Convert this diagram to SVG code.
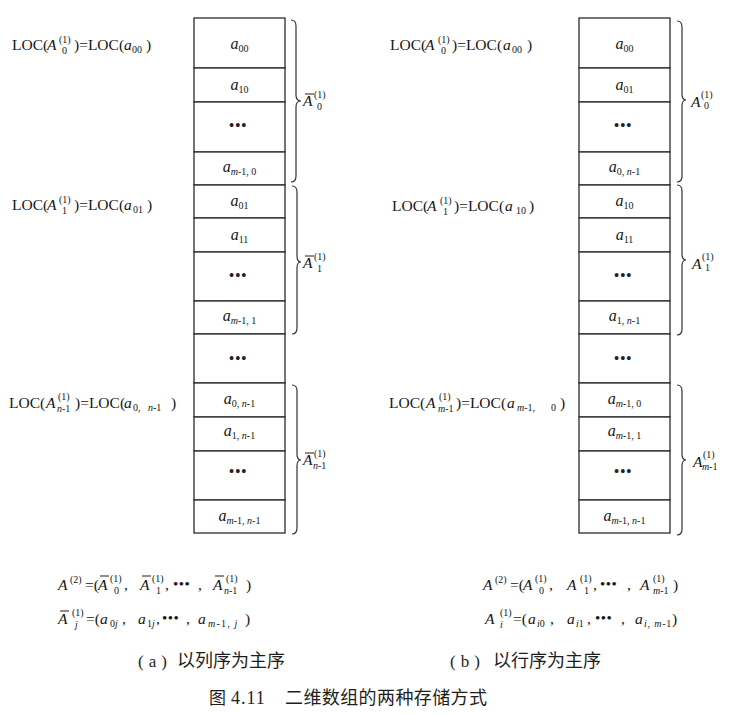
<svg xmlns="http://www.w3.org/2000/svg" width="733" height="714" viewBox="0 0 733 714">
<style>
.t{font-family:"Liberation Serif",serif;fill:#161616}
.lab{font-size:15.5px}
.it{font-style:italic}
.sup{font-size:10px;font-style:normal}
.cell{font-family:"Liberation Serif",serif;fill:#161616;font-size:16px;font-style:italic;text-anchor:middle}
.sub{font-size:10px;font-style:normal}
.dots{font-family:"Liberation Serif",serif;fill:#222;font-size:16px;letter-spacing:0.5px;text-anchor:middle}
.bl{font-size:15px;letter-spacing:0.5px}
.box{fill:#fff;stroke:#2a2a2a;stroke-width:1.3}
.brace{fill:none;stroke:#333;stroke-width:1.2}
.ol{stroke:#1e1e1e;stroke-width:1}
.cjk{font-family:"Liberation Serif","Noto Sans CJK SC",sans-serif;fill:#1e1e1e;font-size:18px}
</style>
<rect width="733" height="714" fill="#fff"/>

<!-- Column-major storage (a) -->
<g id="col-a">
<g id="a-c0"><rect class="box" x="194" y="18" width="91" height="50"/><text class="cell" x="239.5" y="49">a<tspan class="sub" dy="3">00</tspan></text></g>
<g id="a-c1"><rect class="box" x="194" y="68" width="91" height="34"/><text class="cell" x="239.5" y="90">a<tspan class="sub" dy="3">10</tspan></text></g>
<g id="a-c2"><rect class="box" x="194" y="102" width="91" height="50"/><text class="dots" x="238" y="131">•••</text></g>
<g id="a-c3"><rect class="box" x="194" y="152" width="91" height="33"/><text class="cell" x="239.5" y="172">a<tspan class="sub" dy="3"><tspan class="it">m</tspan>-1,  0</tspan></text></g>
<g id="a-c4"><rect class="box" x="194" y="185" width="91" height="33"/><text class="cell" x="239.5" y="206">a<tspan class="sub" dy="3">01</tspan></text></g>
<g id="a-c5"><rect class="box" x="194" y="218" width="91" height="34"/><text class="cell" x="239.5" y="240">a<tspan class="sub" dy="3">11</tspan></text></g>
<g id="a-c6"><rect class="box" x="194" y="252" width="91" height="49"/><text class="dots" x="238" y="281">•••</text></g>
<g id="a-c7"><rect class="box" x="194" y="301" width="91" height="33"/><text class="cell" x="239.5" y="321">a<tspan class="sub" dy="3"><tspan class="it">m</tspan>-1,  1</tspan></text></g>
<g id="a-c8"><rect class="box" x="194" y="334" width="91" height="49"/><text class="dots" x="238" y="364">•••</text></g>
<g id="a-c9"><rect class="box" x="194" y="383" width="91" height="34"/><text class="cell" x="239.5" y="404">a<tspan class="sub" dy="3">0, <tspan class="it">n</tspan>-1</tspan></text></g>
<g id="a-c10"><rect class="box" x="194" y="417" width="91" height="34"/><text class="cell" x="239.5" y="436">a<tspan class="sub" dy="3">1, <tspan class="it">n</tspan>-1</tspan></text></g>
<g id="a-c11"><rect class="box" x="194" y="451" width="91" height="49"/><text class="dots" x="238" y="477">•••</text></g>
<g id="a-c12"><rect class="box" x="194" y="500" width="91" height="33"/><text class="cell" x="239.5" y="521">a<tspan class="sub" dy="3"><tspan class="it">m</tspan>-1, <tspan class="it">n</tspan>-1</tspan></text></g>
</g>

<!-- Row-major storage (b) -->
<g id="col-b">
<g id="b-c0"><rect class="box" x="579" y="18" width="91" height="50"/><text class="cell" x="624.5" y="49">a<tspan class="sub" dy="3">00</tspan></text></g>
<g id="b-c1"><rect class="box" x="579" y="68" width="91" height="34"/><text class="cell" x="624.5" y="90">a<tspan class="sub" dy="3">01</tspan></text></g>
<g id="b-c2"><rect class="box" x="579" y="102" width="91" height="50"/><text class="dots" x="623" y="131">•••</text></g>
<g id="b-c3"><rect class="box" x="579" y="152" width="91" height="33"/><text class="cell" x="624.5" y="172">a<tspan class="sub" dy="3">0, <tspan class="it">n</tspan>-1</tspan></text></g>
<g id="b-c4"><rect class="box" x="579" y="185" width="91" height="33"/><text class="cell" x="624.5" y="206">a<tspan class="sub" dy="3">10</tspan></text></g>
<g id="b-c5"><rect class="box" x="579" y="218" width="91" height="34"/><text class="cell" x="624.5" y="240">a<tspan class="sub" dy="3">11</tspan></text></g>
<g id="b-c6"><rect class="box" x="579" y="252" width="91" height="49"/><text class="dots" x="623" y="281">•••</text></g>
<g id="b-c7"><rect class="box" x="579" y="301" width="91" height="33"/><text class="cell" x="624.5" y="321">a<tspan class="sub" dy="3">1, <tspan class="it">n</tspan>-1</tspan></text></g>
<g id="b-c8"><rect class="box" x="579" y="334" width="91" height="49"/><text class="dots" x="623" y="364">•••</text></g>
<g id="b-c9"><rect class="box" x="579" y="383" width="91" height="34"/><text class="cell" x="624.5" y="404">a<tspan class="sub" dy="3"><tspan class="it">m</tspan>-1,  0</tspan></text></g>
<g id="b-c10"><rect class="box" x="579" y="417" width="91" height="34"/><text class="cell" x="624.5" y="436">a<tspan class="sub" dy="3"><tspan class="it">m</tspan>-1,  1</tspan></text></g>
<g id="b-c11"><rect class="box" x="579" y="451" width="91" height="49"/><text class="dots" x="623" y="477">•••</text></g>
<g id="b-c12"><rect class="box" x="579" y="500" width="91" height="33"/><text class="cell" x="624.5" y="521">a<tspan class="sub" dy="3"><tspan class="it">m</tspan>-1, <tspan class="it">n</tspan>-1</tspan></text></g>
</g>

<!-- braces -->
<g id="connectors">
<path class="brace" d="M291,20 Q296,20 296,26 L296,95 Q296,101 301,101 Q296,101 296,107 L296,176 Q296,182 291,182"/>
<path class="brace" d="M292,186 Q297,186 297,192 L297,256 Q297,262 301,262 Q297,262 297,268 L297,328 Q297,334 292,334"/>
<path class="brace" d="M292,385 Q297,385 297,391 L297,454 Q297,460 301,460 Q297,460 297,466 L297,528 Q297,534 292,534"/>
<path class="brace" d="M677,21 Q682,21 682,27 L682,94 Q682,100 686,100 Q682,100 682,106 L682,176 Q682,182 677,182"/>
<path class="brace" d="M677,185 Q682,185 682,191 L682,254 Q682,260 686,260 Q682,260 682,266 L682,329 Q682,335 677,335"/>
<path class="brace" d="M677,385 Q682,385 682,391 L682,454 Q682,460 686,460 Q682,460 682,466 L682,529 Q682,535 677,535"/>
</g>

<!-- brace labels -->
<g id="brace-labels">
<line class="ol" x1="305" y1="94" x2="314" y2="94"/>
<text class="t lab it" x="303" y="106">A<tspan class="sup" x="314" y="98">(1)</tspan><tspan class="sup" x="317" y="110">0</tspan></text>
<line class="ol" x1="305" y1="256" x2="314" y2="256"/>
<text class="t lab it" x="303" y="268">A<tspan class="sup" x="314" y="260">(1)</tspan><tspan class="sup" x="317" y="272">1</tspan></text>
<line class="ol" x1="305" y1="453" x2="314" y2="453"/>
<text class="t lab it" x="303" y="465">A<tspan class="sup" x="314" y="457">(1)</tspan><tspan class="sup" x="313" y="469"><tspan class="it">n</tspan>-1</tspan></text>

<text class="t lab it" x="691" y="107">A<tspan class="sup" x="701" y="98">(1)</tspan><tspan class="sup" x="704" y="109">0</tspan></text>
<text class="t lab it" x="692" y="269">A<tspan class="sup" x="702" y="260">(1)</tspan><tspan class="sup" x="705" y="271">1</tspan></text>
<text class="t lab it" x="693" y="467">A<tspan class="sup" x="703" y="458">(1)</tspan><tspan class="sup" x="702" y="470"><tspan class="it">m</tspan>-1</tspan></text>
</g>

<!-- LOC labels -->
<g id="loc-labels">
<text class="t lab" x="12" y="50">LOC(<tspan class="it" x="47">A</tspan><tspan class="sup" x="59" y="43">(1)</tspan><tspan class="sup" x="62" y="54">0</tspan><tspan x="74" y="50">)=LOC(</tspan><tspan class="it" x="124">a</tspan><tspan class="sup" x="132" y="53">00</tspan><tspan x="146" y="50">)</tspan></text>
<text class="t lab" x="12" y="210">LOC(<tspan class="it" x="47">A</tspan><tspan class="sup" x="59" y="203">(1)</tspan><tspan class="sup" x="62" y="214">1</tspan><tspan x="74" y="210">)=LOC(</tspan><tspan class="it" x="124">a</tspan><tspan class="sup" x="133" y="213">01</tspan><tspan x="147" y="210">)</tspan></text>
<text class="t lab" x="9" y="408">LOC(<tspan class="it" x="46">A</tspan><tspan class="sup" x="58" y="400">(1)</tspan><tspan class="sup" x="57" y="412"><tspan class="it">n</tspan>-1</tspan><tspan x="75" y="408">)=LOC(</tspan><tspan class="it" x="124">a</tspan><tspan class="sup" x="133" y="411">0,</tspan><tspan class="sup" x="148" y="411"><tspan class="it">n</tspan>-1</tspan><tspan x="171" y="408">)</tspan></text>

<text class="t lab" x="390" y="50">LOC(<tspan class="it" x="425">A</tspan><tspan class="sup" x="438" y="43">(1)</tspan><tspan class="sup" x="441" y="54">0</tspan><tspan x="452" y="50">)=LOC(</tspan><tspan class="it" x="503">a</tspan><tspan class="sup" x="512" y="53">00</tspan><tspan x="527" y="50">)</tspan></text>
<text class="t lab" x="392" y="211">LOC(<tspan class="it" x="427">A</tspan><tspan class="sup" x="440" y="204">(1)</tspan><tspan class="sup" x="443" y="215">1</tspan><tspan x="454" y="211">)=LOC(</tspan><tspan class="it" x="505">a</tspan><tspan class="sup" x="516" y="214">10</tspan><tspan x="529" y="211">)</tspan></text>
<text class="t lab" x="389" y="408">LOC(<tspan class="it" x="426">A</tspan><tspan class="sup" x="439" y="400">(1)</tspan><tspan class="sup" x="438" y="412"><tspan class="it">m</tspan>-1</tspan><tspan x="456" y="408">)=LOC(</tspan><tspan class="it" x="507">a</tspan><tspan class="sup" x="517" y="411"><tspan class="it">m</tspan>-1,</tspan><tspan class="sup" x="551" y="411">0</tspan><tspan x="560" y="408">)</tspan></text>
</g>

<!-- formulas -->
<g id="formulas">
<text class="t lab" x="58" y="590"><tspan class="it">A</tspan><tspan class="sup" x="70" y="583">(2)</tspan><tspan x="85" y="590">=(</tspan><tspan class="it" x="98">A</tspan><tspan class="sup" x="110" y="582">(1)</tspan><tspan class="sup" x="114" y="594">0</tspan><tspan x="124" y="590">,</tspan><tspan class="it" x="140">A</tspan><tspan class="sup" x="152" y="582">(1)</tspan><tspan class="sup" x="156" y="594">1</tspan><tspan x="165" y="590">,</tspan><tspan class="bl" x="173" y="589">•••</tspan><tspan x="198" y="590">,</tspan><tspan class="it" x="213">A</tspan><tspan class="sup" x="226" y="582">(1)</tspan><tspan class="sup" x="224" y="594"><tspan class="it">n</tspan>-1</tspan><tspan x="246" y="590">)</tspan></text>
<line class="ol" x1="100" y1="576" x2="109" y2="576"/>
<line class="ol" x1="142" y1="576" x2="151" y2="576"/>
<line class="ol" x1="215" y1="576" x2="224" y2="576"/>

<line class="ol" x1="60" y1="611" x2="69" y2="611"/>
<text class="t lab" x="58" y="624"><tspan class="it">A</tspan><tspan class="sup" x="72" y="616">(1)</tspan><tspan class="sup" x="75" y="628" style="font-style:italic">j</tspan><tspan x="86" y="624">=(</tspan><tspan class="it" x="100">a</tspan><tspan class="sup" x="110" y="627">0<tspan class="it">j</tspan></tspan><tspan x="122" y="624">,</tspan><tspan class="it" x="138">a</tspan><tspan class="sup" x="147" y="627">1<tspan class="it">j</tspan></tspan><tspan x="156" y="624">,</tspan><tspan class="bl" x="162" y="623">•••</tspan><tspan x="186" y="624">,</tspan><tspan class="it" x="198">a</tspan><tspan class="sup" x="208" y="627" style="letter-spacing:1.2px"><tspan class="it">m</tspan>-1, <tspan class="it">j</tspan></tspan><tspan x="245" y="624">)</tspan></text>

<text class="t lab" x="483" y="590"><tspan class="it">A</tspan><tspan class="sup" x="495" y="583">(2)</tspan><tspan x="510" y="590">=(</tspan><tspan class="it" x="523">A</tspan><tspan class="sup" x="535" y="582">(1)</tspan><tspan class="sup" x="539" y="594">0</tspan><tspan x="549" y="590">,</tspan><tspan class="it" x="567">A</tspan><tspan class="sup" x="580" y="582">(1)</tspan><tspan class="sup" x="584" y="594">1</tspan><tspan x="593" y="590">,</tspan><tspan class="bl" x="600" y="589">•••</tspan><tspan x="627" y="590">,</tspan><tspan class="it" x="640">A</tspan><tspan class="sup" x="653" y="582">(1)</tspan><tspan class="sup" x="653" y="594"><tspan class="it">m</tspan>-1</tspan><tspan x="673" y="590">)</tspan></text>
<text class="t lab" x="485" y="624"><tspan class="it">A</tspan><tspan class="sup" x="500" y="616">(1)</tspan><tspan class="sup" x="500" y="628" style="font-style:italic">i</tspan><tspan x="513" y="624">=(</tspan><tspan class="it" x="528">a</tspan><tspan class="sup" x="537" y="627"><tspan class="it">i</tspan>0</tspan><tspan x="550" y="624">,</tspan><tspan class="it" x="567">a</tspan><tspan class="sup" x="576" y="627"><tspan class="it">i</tspan>1</tspan><tspan x="587" y="624">,</tspan><tspan class="bl" x="595" y="623">•••</tspan><tspan x="621" y="624">,</tspan><tspan class="it" x="635">a</tspan><tspan class="sup" x="644" y="627" style="letter-spacing:0.8px"><tspan class="it">i</tspan>, <tspan class="it">m</tspan>-1</tspan><tspan x="672" y="624">)</tspan></text>
</g>

<!-- captions -->
<g id="captions">
<text class="cjk" x="138" y="667"><tspan style="font-family:'Liberation Serif',serif;font-size:17px;letter-spacing:5px">(a)</tspan><tspan x="177">以列序为主序</tspan></text>
<text class="cjk" x="450" y="667"><tspan style="font-family:'Liberation Serif',serif;font-size:17px;letter-spacing:5px">(b)</tspan><tspan x="493">以行序为主序</tspan></text>
<text class="cjk" x="209" y="704" style="font-size:17px">图<tspan x="231" style="font-family:'Liberation Serif',serif;font-size:18px;letter-spacing:1px">4.11</tspan><tspan x="285" style="font-size:18px;letter-spacing:0.4px">二维数组的两种存储方式</tspan></text>
</g>
</svg>
